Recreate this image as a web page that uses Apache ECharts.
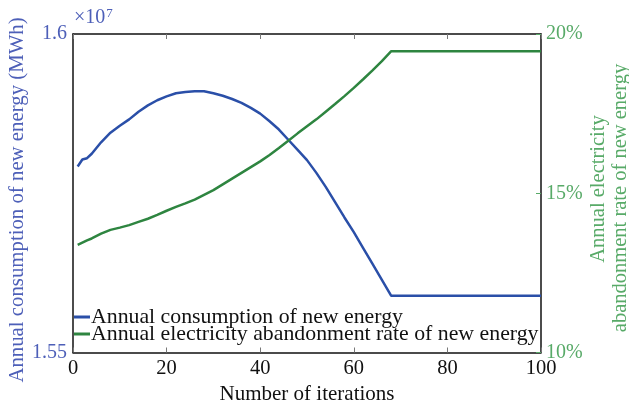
<!DOCTYPE html>
<html><head><meta charset="utf-8">
<script src="https://cdn.jsdelivr.net/npm/echarts@6/dist/echarts.min.js"></script>
<style>html,body{margin:0;padding:0;background:#fff}#c{width:629px;height:402px}</style>
</head><body><div id="c"></div>
<script>
var iterations = [1,2,3,4,6,8,10,12,14,16,18,20,22,24,26,28,30,32,34,36,38,40,42,44,46,48,50,52,54,56,58,60,62,64,66,68,70,75,80,85,90,95,100];
var consumption = [1.5792,1.5803,1.5805,1.5812,1.5830,1.5845,1.5856,1.5866,1.5878,1.5888,1.5896,1.5902,1.5907,1.5909,1.5910,1.5910,1.5907,1.5903,1.5898,1.5892,1.5884,1.5875,1.5863,1.5850,1.5834,1.5818,1.5802,1.5782,1.5760,1.5736,1.5712,1.5689,1.5664,1.5639,1.5614,1.5589,1.5589,1.5589,1.5589,1.5589,1.5589,1.5589,1.5589];
var abandonRate = [13.38,13.45,13.52,13.58,13.73,13.85,13.92,14.0,14.1,14.2,14.32,14.45,14.57,14.68,14.8,14.95,15.1,15.28,15.46,15.64,15.82,16.0,16.2,16.42,16.65,16.88,17.1,17.32,17.56,17.8,18.05,18.31,18.58,18.86,19.15,19.46,19.46,19.46,19.46,19.46,19.46,19.46,19.46];
var seriesNames = ['Annual consumption of new energy','Annual electricity abandonment rate of new energy'];
var xTicks = [0,20,40,60,80,100];
var xName = 'Number of iterations';
var yLeftName = 'Annual consumption of new energy (MWh)';
var yRightName = ['Annual electricity', 'abandonment rate of new energy'];

var font = 'Liberation Serif';
var blueLine = '#2a4fa8', greenLine = '#2e8540';
var blueText = '#4d5fb8', greenText = '#58aa68';

var chart = echarts.init(document.getElementById('c'));
chart.setOption({
  animation: false,
  textStyle: {fontFamily: font},
  grid: {left: 73, right: 88, top: 34, bottom: 49.5, containLabel: false, outerBoundsMode: 'none'},
  legend: {
    orient: 'vertical', left: 74, top: 306, padding: 0, itemGap: -5,
    itemWidth: 16, itemHeight: 3, icon: 'rect',
    textStyle: {fontFamily: font, fontSize: 21.8, lineHeight: 17, color: '#111', padding: [0,0,0,-4]},
    data: seriesNames
  },
  xAxis: [{
    type: 'value', min: xTicks[0], max: xTicks[xTicks.length-1], interval: 20,
    name: xName, nameLocation: 'middle', nameGap: 29,
    nameTextStyle: {fontFamily: font, fontSize: 21, color: '#111'},
    axisLine: {onZero: false, lineStyle: {color: '#111', width: 1.5}},
    axisTick: {inside: true, length: 5, lineStyle: {color: '#777'}},
    axisLabel: {fontFamily: font, fontSize: 20.5, color: '#111', margin: 6},
    splitLine: {show: false}
  },{
    type: 'value', position: 'top', min: 0, max: 100, interval: 20,
    axisLine: {show: true, onZero: false, lineStyle: {color: '#111', width: 1.5}},
    axisTick: {inside: true, length: 5, lineStyle: {color: '#777'}},
    axisLabel: {show: false}, splitLine: {show: false}
  }],
  yAxis: [{
    type: 'value', min: 15500000, max: 16000000, interval: 500000,
    axisLine: {show: true, onZero: false, lineStyle: {color: '#111', width: 1.5}},
    axisTick: {show: false},
    axisLabel: {fontFamily: font, fontSize: 20, color: blueText, margin: 6,
      formatter: function(v){ return String(v/1e7); }},
    splitLine: {show: false}
  },{
    type: 'value', min: 10, max: 20, interval: 5, position: 'right',
    axisLine: {show: true, onZero: false, lineStyle: {color: '#111', width: 1.5}},
    axisTick: {show: true, inside: true, length: 5, lineStyle: {color: greenText}},
    axisLabel: {fontFamily: font, fontSize: 20, color: greenText, margin: 5, formatter: '{value}%'},
    splitLine: {show: false}
  }],
  graphic: [{
    type: 'text', left: 74, top: 7,
    style: {text: '×10{s|7}', fontFamily: font, fontSize: 20, fill: blueText,
      rich: {s: {fontSize: 13, verticalAlign: 'top', fontFamily: font, fill: blueText, padding: [0,0,9,1]}}}
  },{
    type: 'text', x: 18, y: 200, rotation: Math.PI/2,
    style: {text: yLeftName, fontFamily: font, fontSize: 20.8, fill: blueText, align: 'center', verticalAlign: 'middle'}
  },{
    type: 'text', x: 599, y: 189, rotation: Math.PI/2,
    style: {text: yRightName[0], fontFamily: font, fontSize: 20.5, fill: greenText, align: 'center', verticalAlign: 'middle'}
  },{
    type: 'text', x: 621, y: 198, rotation: Math.PI/2,
    style: {text: yRightName[1], fontFamily: font, fontSize: 20.5, fill: greenText, align: 'center', verticalAlign: 'middle'}
  }],
  series: [{
    name: seriesNames[0], type: 'line', yAxisIndex: 0, showSymbol: false,
    lineStyle: {color: blueLine, width: 2.5}, itemStyle: {color: blueLine},
    data: iterations.map(function(x,i){ return [x, consumption[i]*1e7]; })
  },{
    name: seriesNames[1], type: 'line', yAxisIndex: 1, showSymbol: false,
    lineStyle: {color: greenLine, width: 2.5}, itemStyle: {color: greenLine},
    data: iterations.map(function(x,i){ return [x, abandonRate[i]]; })
  }]
});
</script></body></html>
